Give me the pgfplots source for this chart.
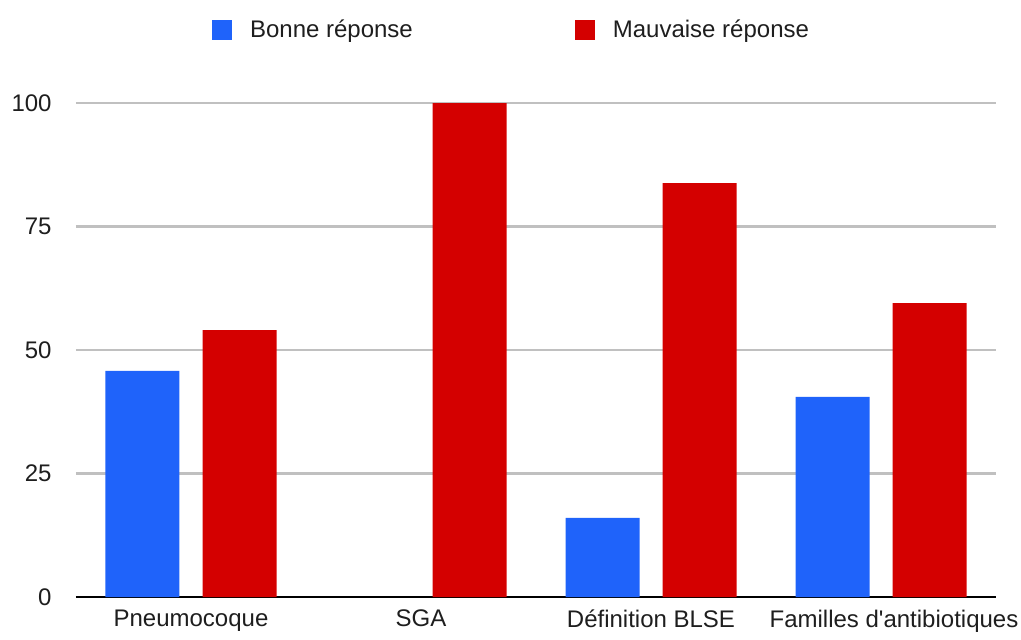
\documentclass[border=0pt]{standalone}
\usepackage{fontspec}
\setmainfont{Liberation Sans}[Ligatures=TeXOff]
\usepackage{pgfplots}
\pgfplotsset{compat=1.18}

\definecolor{bonne}{RGB}{31,99,250}
\definecolor{mauvaise}{RGB}{212,0,0}
\definecolor{gridgray}{RGB}{192,192,192}
\definecolor{txt}{RGB}{30,30,30}

\begin{document}
\begin{tikzpicture}
\begin{axis}[
    width=460pt, height=247pt,
    scale only axis,
    ybar=11.5pt,
    bar width=37pt,
    xmin=-0.5, xmax=3.5,
    ymin=0, ymax=100,
    xtick={0,1,2},
    xticklabels={Pneumocoque, SGA, Définition BLSE},
    extra x ticks={3},
    extra x tick labels={Familles d'antibiotiques},
    extra x tick style={xticklabel style={xshift=6.5pt}},
    ytick={0,25,50,75,100},
    ymajorgrids,
    grid style={gridgray, line width=1.3pt},
    axis x line*=bottom,
    axis y line*=left,
    x axis line style={black, line width=1pt, -},
    y axis line style={draw=none},
    major tick length=0pt,
    tick label style={font=\fontsize{12}{14}\selectfont, text=txt, inner xsep=0pt},
    /pgf/number format/assume math mode=true,
    xticklabel style={yshift=-3pt},
    yticklabel style={xshift=-12pt},
    clip=false,
    legend style={
        at={(0.4745,1.148)}, anchor=center,
        draw=none, fill=none,
        font=\fontsize{12}{14}\selectfont,
        text=txt,
        legend columns=2,
        /tikz/every odd column/.append style={column sep=7pt},
        /tikz/every even column/.append style={column sep=79pt},
    },
    legend image code/.code={
        \fill (0pt,-5pt) rectangle (10pt,5pt);
    },
]
\addplot[fill=bonne, draw=none] coordinates {(0,45.8) (2,16.0) (3,40.5)};
\addplot[fill=mauvaise, draw=none] coordinates {(0,54.0) (1,100) (2,83.8) (3,59.5)};
\legend{Bonne réponse, Mauvaise réponse}
\end{axis}
\useasboundingbox ([shift={(-38pt,-18.5pt)}]current axis.south west)
    rectangle ([shift={(12.5pt,51.5pt)}]current axis.north east);
\end{tikzpicture}
\end{document}
